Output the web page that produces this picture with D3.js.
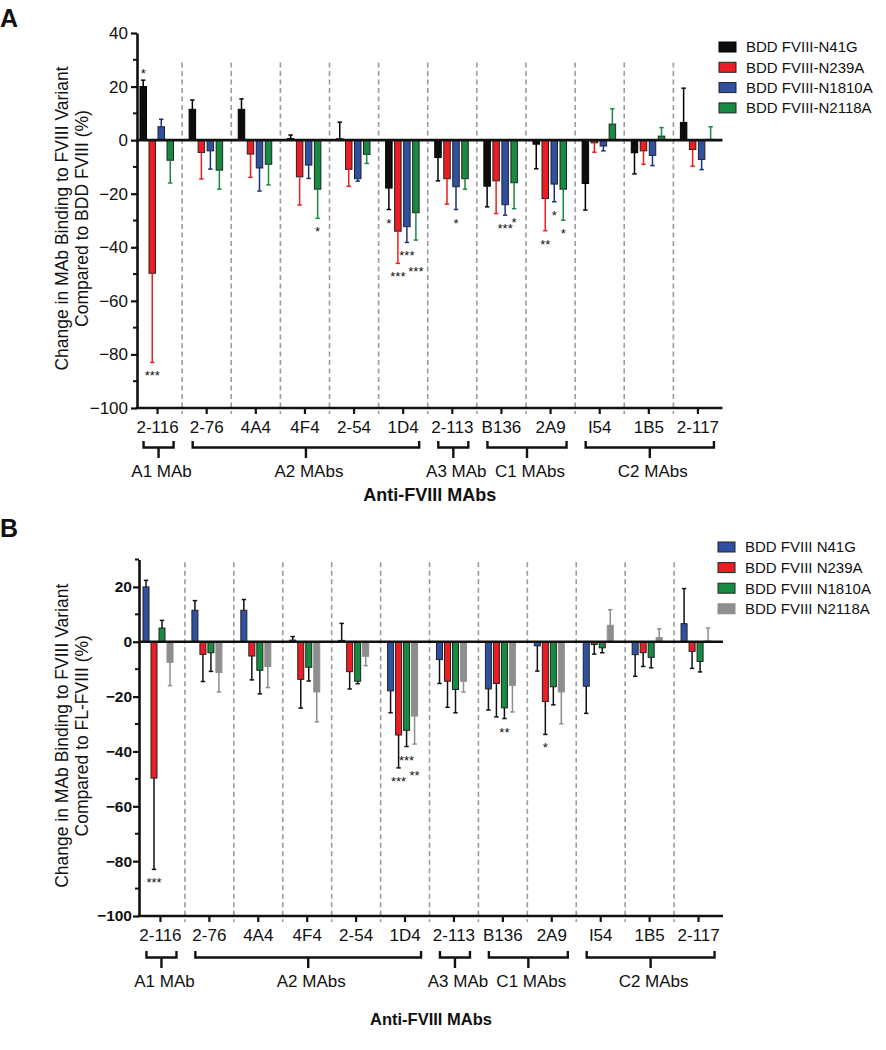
<!DOCTYPE html>
<html><head><meta charset="utf-8">
<script src="https://cdn.jsdelivr.net/npm/d3@7"></script>
<style>
body{margin:0;background:#fff}
svg{display:block}
text{font-family:"Liberation Sans",Arial,Helvetica,sans-serif;fill:#111}
</style>
</head><body>
<svg id="c" width="886" height="1050"></svg>
<script>
// ---------------- data ----------------
const categories = ["2-116","2-76","4A4","4F4","2-54","1D4","2-113","B136","2A9","I54","1B5","2-117"];

const n41g     = [20, 11.5, 11.5, 0.6, 0.5, -17.9, -6.5, -17.2, -1.5, -16.2, -4.7, 6.6];
const n41gSd   = [2.4, 3.5, 3.9, 1.3, 6.2, 8, 8.7, 7.7, 9.2, 9.9, 7.9, 12.8];
const n239a    = [-49.7, -4.6, -5.2, -13.7, -10.9, -34, -14.4, -15.2, -21.8, -1, -4, -3.5];
const n239aSd  = [33.3, 9.9, 8.7, 10.5, 6.3, 12, 9.5, 12.2, 12, 3.5, 5, 6.2];
const n1810a   = [5, -4, -10.4, -9.3, -14.4, -32.3, -17.4, -24.1, -16.4, -2.2, -5.7, -7.2];
const n1810aSd = [2.8, 6.8, 8.6, 5, 0.9, 5.9, 8.5, 3.9, 6.6, 1.8, 3.8, 3.8];
const n2118a   = [-7.5, -11.2, -9, -18.3, -5.3, -27.1, -14.4, -15.9, -18.3, 6, 1.5, 0.3];
const n2118aSd = [8.5, 7.1, 7.7, 10.9, 3.4, 10.2, 3.9, 9.7, 11.6, 5.7, 3.2, 4.7];

// significance marks, panel A
const sigA_n41g   = ["*","","","","","*","","","","","",""];
const sigA_n239a  = ["***","","","","","***","","","**","","",""];
const sigA_n1810a = ["","","","","","***","*","***","*","","",""];
const sigA_n2118a = ["","","","*","","***","","*","*","","",""];
// significance marks, panel B
const sigB_n41g   = ["","","","","","","","","","","",""];
const sigB_n239a  = ["***","","","","","***","","","*","","",""];
const sigB_n1810a = ["","","","","","***","","**","","","",""];
const sigB_n2118a = ["","","","","","**","","","","","",""];

const groupLabels = ["A1 MAb","A2 MAbs","A3 MAb","C1 MAbs","C2 MAbs"];
const groupFirst  = [0, 1, 6, 7, 9];
const groupLast   = [0, 5, 6, 8, 11];

const yTicksA = [40, 20, 0, -20, -40, -60, -80, -100];
const yTicksB = [20, 0, -20, -40, -60, -80, -100];
const yMinorA = [30, 10, -10, -30, -50, -70, -90];
const yMinorB = [30, 10, -10, -30, -50, -70, -90];

const legendA = ["BDD FVIII-N41G","BDD FVIII-N239A","BDD FVIII-N1810A","BDD FVIII-N2118A"];
const legendB = ["BDD FVIII N41G","BDD FVIII N239A","BDD FVIII N1810A","BDD FVIII N2118A"];

// ---------------- drawing ----------------
const svg = d3.select("#c");
const FONT = '"Liberation Sans",Arial,Helvetica,sans-serif';

function panel(cfg){
  const g = svg.append("g");
  const y = d3.scaleLinear().domain(cfg.domain).range([cfg.bottom, cfg.top]);
  const x = d3.scaleBand().domain(categories).range(cfg.xRange).paddingInner(0).paddingOuter(0);
  const inner = d3.scaleBand().domain(d3.range(4)).range(cfg.innerRange).paddingInner(cfg.innerPad).paddingOuter(0);
  const axisX = cfg.axisX, xEnd = cfg.xRange[1];

  // dashed separators
  g.selectAll("line.sep").data(categories.slice(1)).join("line")
    .attr("x1", d => x(d)).attr("x2", d => x(d))
    .attr("y1", y(29)).attr("y2", cfg.bottom + 6)
    .attr("stroke", "#9b9b9b").attr("stroke-width", 1.6).attr("stroke-dasharray", "5,3.5");

  // bars
  const series = cfg.series;
  series.forEach((s, si) => {
    const data = s.values.map((v, i) => ({cat: categories[i], v, sd: s.sd[i], sig: s.sig[i]}));
    g.selectAll(null).data(data).join("rect")
      .attr("x", d => x(d.cat) + inner(si))
      .attr("width", inner.bandwidth())
      .attr("y", d => y(Math.max(0, d.v)))
      .attr("height", d => Math.abs(y(d.v) - y(0)))
      .attr("fill", s.color).attr("stroke", s.stroke).attr("stroke-width", 1);
    const end = d => d.v >= 0 ? d.v + d.sd : d.v - d.sd;
    const cx = d => x(d.cat) + inner(si) + inner.bandwidth() / 2;
    g.selectAll(null).data(data).join("line")
      .attr("x1", cx).attr("x2", cx).attr("y1", d => y(d.v)).attr("y2", d => y(end(d)))
      .attr("stroke", s.err).attr("stroke-width", 1.5);
    g.selectAll(null).data(data).join("line")
      .attr("x1", d => cx(d) - 2.2).attr("x2", d => cx(d) + 2.2)
      .attr("y1", d => y(end(d))).attr("y2", d => y(end(d)))
      .attr("stroke", s.err).attr("stroke-width", 1.5);
    s.starData = data.map(d => ({cat: d.cat, cx: cx(d), sig: d.sig, neg: d.v < 0, ey: y(end(d))}));
  });
  // stars with simple collision avoidance per category
  categories.forEach(cat => {
    const placed = [];
    series.forEach(s => {
      const d = s.starData.find(e => e.cat === cat);
      if (!d || !d.sig) return;
      let cy = d.neg ? d.ey + 10 : d.ey - 10;
      const w = d.sig.length * 4.3;
      for (let iter = 0; iter < 10; iter++) {
        let moved = false;
        placed.forEach(p => {
          if (Math.abs(p.cx - d.cx) < (p.w + w) / 2 && Math.abs(p.cy - cy) < 14.5) { cy = p.cy + 15.5; moved = true; }
        });
        if (!moved) break;
      }
      placed.push({cx: d.cx, cy, w});
      g.append("text").attr("x", d.cx).attr("y", cy + 8)
        .attr("text-anchor", "middle").attr("font-size", 13).text(d.sig);
    });
  });

  // zero line
  g.append("line").attr("x1", axisX).attr("x2", xEnd).attr("y1", y(0)).attr("y2", y(0))
    .attr("stroke", "#111").attr("stroke-width", 2.6);

  // y axis
  const ya = g.append("g").attr("transform", `translate(${axisX},0)`)
    .call(d3.axisLeft(y).tickValues(cfg.yTicks).tickSize(6).tickSizeOuter(0).tickPadding(cfg.yPad).tickFormat(d3.format("d")));
  ya.select(".domain").attr("stroke", "#111").attr("stroke-width", 2.6);
  ya.selectAll(".tick line").attr("stroke", "#111").attr("stroke-width", 2.2);
  ya.selectAll("text").attr("font-family", FONT).attr("font-size", cfg.yFont)
    .attr("font-weight", cfg.yBold ? "bold" : "normal").attr("fill", "#111");
  g.selectAll(null).data(cfg.yMinor).join("line")
    .attr("x1", axisX - 4).attr("x2", axisX).attr("y1", d => y(d)).attr("y2", d => y(d))
    .attr("stroke", "#111").attr("stroke-width", 2);

  // x axis
  const xa = g.append("g").attr("transform", `translate(0,${cfg.bottom})`)
    .call(d3.axisBottom(x).tickSize(6).tickSizeOuter(0).tickPadding(7));
  xa.select(".domain").remove();
  xa.selectAll(".tick line").attr("stroke", "#111").attr("stroke-width", 2.2);
  xa.selectAll("text").attr("font-family", FONT).attr("font-size", 17).attr("fill", "#111");
  g.append("line").attr("x1", axisX - 1.3).attr("x2", xEnd).attr("y1", cfg.bottom).attr("y2", cfg.bottom)
    .attr("stroke", "#111").attr("stroke-width", 2.6);

  // brackets
  const by = cfg.bracketY;
  groupLabels.forEach((lab, k) => {
    const x1 = x(categories[groupFirst[k]]) + x.bandwidth() / 2 - 14;
    const x2 = x(categories[groupLast[k]]) + x.bandwidth() / 2 + 16;
    const mid = (x1 + x2) / 2;
    g.append("path")
      .attr("d", `M${x1},${by - 6.5}V${by}H${x2}V${by - 6.5}M${mid},${by}V${by + 10.5}`)
      .attr("fill", "none").attr("stroke", "#111").attr("stroke-width", 2.4);
    g.append("text").attr("x", mid + 3).attr("y", by + 29.5).attr("text-anchor", "middle")
      .attr("font-size", 17).text(lab);
  });

  // x title
  g.append("text").attr("x", (axisX + xEnd) / 2).attr("y", cfg.xTitleY).attr("text-anchor", "middle")
    .attr("font-size", cfg.xTitleFont).attr("font-weight", "bold").text("Anti-FVIII MAbs");

  // y title
  const ty = (cfg.top + cfg.bottom) / 2 - 2;
  cfg.yTitle.forEach((t, i) => {
    g.append("text").attr("transform", `translate(${68 + i * 20},${ty}) rotate(-90)`)
      .attr("text-anchor", "middle").attr("font-size", 17.5).text(t);
  });

  // legend
  series.forEach((s, i) => {
    const ly = cfg.legendY + i * cfg.legendStep;
    g.append("rect").attr("x", cfg.legendX).attr("y", ly - 5).attr("width", 17).attr("height", 10)
      .attr("fill", s.color).attr("stroke", s.stroke).attr("stroke-width", 1);
    g.append("text").attr("x", cfg.legendX + 27).attr("y", ly + 5.3).attr("font-size", 15).text(cfg.legend[i]);
  });

  // panel letter
  g.append("text").attr("x", 0).attr("y", cfg.letterY).attr("font-size", 25).attr("font-weight", "bold").text(cfg.letter);
}

const C = {black: "#0d0d0d", red: "#ee1d24", blue: "#3050a2", green: "#178b42", gray: "#8e8e8e"};

panel({
  letter: "A", letterY: 27,
  domain: [-100, 40], top: 33, bottom: 408,
  xRange: [133, 722.5], axisX: 137, innerRange: [7, 40.5], innerPad: 0.28,
  yTicks: yTicksA, yMinor: yMinorA, yFont: 17, yBold: false, yPad: 3,
  bracketY: 447.5, xTitleY: 501, xTitleFont: 18,
  yTitle: ["Change in MAb Binding to FVIII Variant", "Compared to BDD FVIII (%)"],
  legend: legendA, legendX: 719, legendY: 47, legendStep: 20.3,
  series: [
    {values: n41g, sd: n41gSd, sig: sigA_n41g, color: C.black, stroke: "#000", err: "#000"},
    {values: n239a, sd: n239aSd, sig: sigA_n239a, color: C.red, stroke: "#222", err: "#ee1d24"},
    {values: n1810a, sd: n1810aSd, sig: sigA_n1810a, color: C.blue, stroke: "#222", err: "#1c2f86"},
    {values: n2118a, sd: n2118aSd, sig: sigA_n2118a, color: C.green, stroke: "#222", err: "#178b42"}
  ]
});

panel({
  letter: "B", letterY: 537,
  domain: [-100, 30], top: 559.5, bottom: 916,
  xRange: [136, 723], axisX: 139, innerRange: [7, 37], innerPad: 0.25,
  yTicks: yTicksB, yMinor: yMinorB, yFont: 15.5, yBold: true, yPad: 1,
  bracketY: 957.5, xTitleY: 1025, xTitleFont: 16.5,
  yTitle: ["Change in MAb Binding to FVIII Variant", "Compared to FL-FVIII (%)"],
  legend: legendB, legendX: 718, legendY: 547, legendStep: 20.6,
  series: [
    {values: n41g, sd: n41gSd, sig: sigB_n41g, color: C.blue, stroke: "#222", err: "#111"},
    {values: n239a, sd: n239aSd, sig: sigB_n239a, color: C.red, stroke: "#222", err: "#111"},
    {values: n1810a, sd: n1810aSd, sig: sigB_n1810a, color: C.green, stroke: "#222", err: "#111"},
    {values: n2118a, sd: n2118aSd, sig: sigB_n2118a, color: C.gray, stroke: "#8e8e8e", err: "#8e8e8e"}
  ]
});
</script>
</body></html>
